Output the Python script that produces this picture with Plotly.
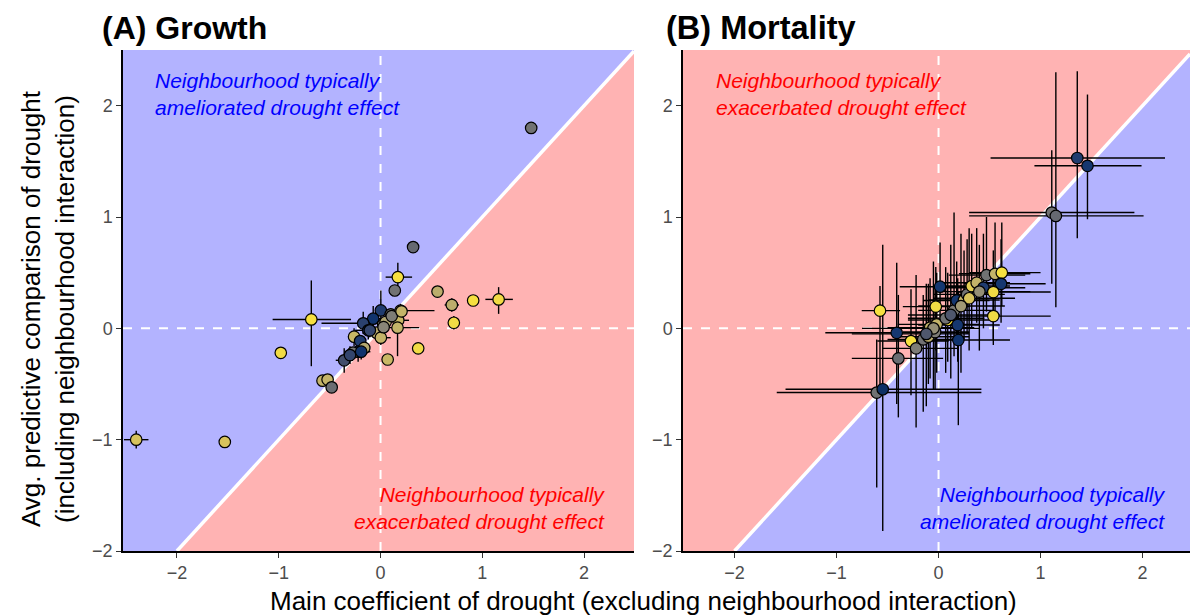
import plotly.graph_objects as go

# ---------------- Panel A: Growth ----------------
a_x = [-2.40, -1.53, -0.98, -0.68, 1.48, 0.32, 0.17, 0.14, 0.56, 0.70, 0.91, 1.16, 0.72, 0.37, 0.07,
       -0.57, -0.52, -0.48, 0.003, 0.10, 0.196, 0.174, 0.167, -0.072, -0.17, 0.026, -0.12, -0.04, 0.003,
       -0.26, -0.20, -0.22, -0.16, -0.27, -0.357, -0.30, 0.05, 0.11, 0.206, -0.105, 0.03, -0.19]
a_y = [-1.00, -1.02, -0.22, 0.08, 1.80, 0.73, 0.46, 0.34, 0.33, 0.21, 0.25, 0.26, 0.05, -0.18, -0.28,
       -0.47, -0.46, -0.53, 0.161, 0.126, 0.159, 0.072, 0.006, 0.087, 0.045, 0.036, -0.018, -0.039, -0.084,
       -0.075, -0.114, -0.21, -0.176, -0.218, -0.287, -0.24, 0.057, 0.11, 0.153, -0.018, 0.01, -0.21]
a_col = [0.85, 0.85, 0.95, 0.97, 0.45, 0.40, 0.97, 0.45, 0.75, 0.75, 0.97, 0.95, 0.95, 0.95, 0.80,
         0.78, 0.78, 0.42, 0.15, 0.45, 0.78, 0.80, 0.78, 0.10, 0.18, 0.50, 0.12, 0.75, 0.78,
         0.80, 0.15, 0.12, 0.72, 0.45, 0.25, 0.20, 0.70, 0.50, 0.78, 0.20, 0.55, 0.10]
a_xlo = [-2.52, -1.53, -0.98, -1.06, 1.48, 0.32, 0.05, 0.14, 0.56, 0.63, 0.86, 1.03, 0.67, 0.33, 0.07,
         -0.62, -0.52, -0.48, -0.05, 0.10, 0.05, 0.10, 0.05, -0.20, -0.58, 0.026, -0.25, -0.04, -0.05,
         -0.32, -0.20, -0.35, -0.16, -0.27, -0.44, -0.36, 0.05, 0.11, 0.206, -0.18, 0.03, -0.25]
a_xhi = [-2.28, -1.53, -0.98, -0.29, 1.48, 0.32, 0.31, 0.14, 0.56, 0.77, 0.96, 1.30, 0.77, 0.42, 0.07,
         -0.52, -0.52, -0.48, 0.12, 0.10, 0.53, 0.28, 0.38, 0.05, 0.05, 0.026, 0.00, -0.04, 0.10,
         -0.20, -0.20, -0.10, -0.16, -0.27, -0.27, -0.24, 0.05, 0.11, 0.206, -0.03, 0.03, -0.12]
a_ylo = [-1.08, -1.02, -0.22, -0.34, 1.80, 0.73, 0.33, 0.34, 0.33, 0.15, 0.21, 0.13, -0.01, -0.23, -0.28,
         -0.50, -0.46, -0.53, 0.05, 0.126, 0.10, 0.00, -0.25, 0.00, -0.05, 0.036, -0.10, -0.039, -0.15,
         -0.16, -0.114, -0.30, -0.176, -0.218, -0.40, -0.32, 0.057, 0.11, 0.153, -0.08, 0.01, -0.28]
a_yhi = [-0.92, -1.02, -0.22, 0.43, 1.80, 0.73, 0.59, 0.34, 0.33, 0.27, 0.29, 0.37, 0.11, -0.13, -0.28,
         -0.44, -0.46, -0.53, 0.34, 0.126, 0.22, 0.14, 0.08, 0.20, 0.15, 0.036, 0.08, -0.039, 0.05,
         0.00, -0.114, -0.12, -0.176, -0.218, -0.18, -0.16, 0.057, 0.11, 0.153, 0.05, 0.01, -0.14]

# ---------------- Panel B: Mortality ----------------
b_x = [1.36, 1.46, 1.11, 1.15, -0.574, -0.41, -0.394, -0.606, -0.547, -0.27, -0.22, -0.15, -0.10, -0.083,
       -0.018, -0.034, 0.015, -0.027, 0.09, 0.152, 0.188, 0.194, 0.178, 0.25, 0.28, 0.325, 0.374, 0.44,
       0.47, 0.554, 0.62, 0.613, 0.537, 0.537, 0.07, -0.05, 0.12, 0.30, 0.40, -0.12, 0.22]
b_y = [1.53, 1.46, 1.04, 1.01, 0.159, -0.04, -0.27, -0.577, -0.547, -0.114, -0.18, -0.10, -0.075, 0.006,
       0.036, -0.033, 0.374, 0.195, 0.075, 0.161, 0.03, -0.105, 0.25, 0.254, 0.305, 0.38, 0.41, 0.365,
       0.478, 0.49, 0.50, 0.40, 0.326, 0.11, 0.09, 0.00, 0.12, 0.27, 0.33, -0.05, 0.20]
b_col = [0.15, 0.12, 0.45, 0.40, 0.97, 0.12, 0.42, 0.45, 0.08, 0.97, 0.50, 0.45, 0.75, 0.78,
         0.78, 0.50, 0.12, 0.95, 1.00, 0.50, 0.12, 0.10, 0.12, 0.78, 0.45, 0.90, 0.78, 0.15,
         0.45, 0.78, 0.97, 0.12, 0.95, 0.95, 0.45, 0.60, 0.30, 0.85, 0.60, 0.30, 0.65]
b_xlo = [0.51, 0.94, 0.30, 0.30, -0.753, -1.11, -0.85, -1.586, -1.50, -0.60, -0.55, -0.50, -0.45, -0.50,
         -0.40, -0.35, -0.38, -0.35, -0.30, -0.20, -0.20, -0.15, -0.15, -0.10, -0.05, 0.00, 0.05, 0.05,
         0.10, 0.20, 0.30, 0.25, 0.20, 0.20, -0.30, -0.75, -0.30, -0.05, 0.00, -0.85, -0.20]
b_xhi = [2.22, 1.99, 1.92, 2.01, -0.377, 0.30, 0.045, 0.42, 0.42, 0.10, 0.20, 0.25, 0.30, 0.35,
         0.40, 0.30, 0.37, 0.30, 0.50, 0.55, 0.60, 0.70, 0.50, 0.60, 0.65, 0.70, 0.70, 0.85,
         0.85, 0.90, 1.00, 1.05, 1.10, 1.10, 0.45, 0.40, 0.60, 0.75, 0.90, 0.30, 0.65]
b_ylo = [0.81, 0.98, 0.40, 0.19, -0.55, -0.68, -0.80, -1.43, -1.82, -0.60, -0.89, -0.75, -0.50, -0.45,
         -0.40, -0.55, 0.10, -0.20, -0.30, -0.25, -0.30, -0.87, -0.10, -0.10, -0.05, 0.00, 0.05, 0.00,
         0.15, 0.10, 0.20, 0.05, -0.10, -0.15, -0.40, -0.55, -0.45, -0.20, -0.20, -0.70, -0.40]
b_yhi = [2.31, 2.10, 1.60, 2.30, 0.38, 0.59, 0.30, -0.10, 0.75, 0.35, 0.48, 0.30, 0.40, 0.45,
         0.50, 0.35, 0.77, 0.55, 0.50, 1.04, 0.45, 0.33, 0.60, 0.70, 0.80, 0.85, 0.90, 0.85,
         1.00, 0.95, 0.95, 0.80, 0.70, 0.50, 0.55, 0.60, 0.75, 0.90, 0.75, 0.40, 0.85]

W, H = 1190, 616
XA = [-2.53, 2.49]
XB = [-2.505, 2.465]
YR = [-2.0, 2.5]
BLUE_BG = "rgb(179,179,255)"
RED_BG = "rgb(255,179,179)"

fig = go.Figure()


def add_panel(x, y, col, xlo, xhi, ylo, yhi, xa, ya):
    ex_p = [h - v for h, v in zip(xhi, x)]
    ex_m = [v - l for l, v in zip(xlo, x)]
    ey_p = [h - v for h, v in zip(yhi, y)]
    ey_m = [v - l for l, v in zip(ylo, y)]
    fig.add_trace(go.Scatter(
        x=x, y=y, mode="markers", xaxis=xa, yaxis=ya, showlegend=False, hoverinfo="skip",
        marker=dict(size=11, opacity=0),
        error_x=dict(type="data", symmetric=False, array=ex_p, arrayminus=ex_m,
                     color="black", thickness=1.4, width=0),
        error_y=dict(type="data", symmetric=False, array=ey_p, arrayminus=ey_m,
                     color="black", thickness=1.4, width=0),
    ))
    fig.add_trace(go.Scatter(
        x=x, y=y, mode="markers", xaxis=xa, yaxis=ya, showlegend=False,
        marker=dict(size=11.5, color=col, colorscale="Cividis", cmin=0, cmax=1,
                    line=dict(color="black", width=1.2)),
    ))


add_panel(a_x, a_y, a_col, a_xlo, a_xhi, a_ylo, a_yhi, "x", "y")
add_panel(b_x, b_y, b_col, b_xlo, b_xhi, b_ylo, b_yhi, "x2", "y2")

shapes = []


def panel_shapes(xr, xref, yref, above_col, below_col):
    x0, x1 = xr
    y0, y1 = YR
    shapes.append(dict(type="path", xref=xref, yref=yref, layer="below", line=dict(width=0),
                       fillcolor=above_col,
                       path=f"M {x0},{y0} L {y0},{y0} L {x1},{x1} L {x1},{y1} L {x0},{y1} Z"))
    shapes.append(dict(type="path", xref=xref, yref=yref, layer="below", line=dict(width=0),
                       fillcolor=below_col,
                       path=f"M {y0},{y0} L {x1},{y0} L {x1},{x1} Z"))
    shapes.append(dict(type="line", xref=xref, yref=yref, layer="below",
                       x0=y0, y0=y0, x1=x1, y1=x1, line=dict(color="white", width=3.5)))
    shapes.append(dict(type="line", xref=xref, yref=yref, layer="below",
                       x0=0, y0=y0, x1=0, y1=y1, line=dict(color="white", width=2, dash="dash")))
    shapes.append(dict(type="line", xref=xref, yref=yref, layer="below",
                       x0=x0, y0=0, x1=x1, y1=0, line=dict(color="white", width=2, dash="dash")))


panel_shapes(XA, "x", "y", BLUE_BG, RED_BG)
panel_shapes(XB, "x2", "y2", RED_BG, BLUE_BG)

ydom = [(H - 551) / H, (H - 50) / H]
axis_common = dict(showgrid=False, zeroline=False, showline=True, linecolor="black", linewidth=1.5,
                   ticks="outside", ticklen=5, tickwidth=1.2, tickcolor="#333333", automargin=False,
                   tickfont=dict(family="Liberation Sans, Arial", size=18, color="#4D4D4D"),
                   tickvals=[-2, -1, 0, 1, 2], fixedrange=True)

fig.update_layout(
    template="none",
    width=W, height=H, autosize=False, margin=dict(l=0, r=0, t=0, b=0, pad=0, autoexpand=False),
    paper_bgcolor="white", plot_bgcolor="white",
    xaxis=dict(domain=[123 / W, 634 / W], range=XA, anchor="y", **axis_common),
    yaxis=dict(domain=ydom, range=YR, anchor="x", **axis_common),
    xaxis2=dict(domain=[683 / W, 1.0], range=XB, anchor="y2", **axis_common),
    yaxis2=dict(domain=ydom, range=YR, anchor="x2", **axis_common),
    shapes=shapes,
    font=dict(family="Liberation Sans, Arial"),
)

ann = []


def px_ann(text, x, y, xanchor="left", size=21, color="black", align="left", angle=0, bold=False, italic=False):
    t = text
    if bold:
        t = f"<b>{t}</b>"
    if italic:
        t = f"<i>{t}</i>"
    ann.append(dict(text=t, x=x / W, y=1 - y / H, xref="paper", yref="paper", showarrow=False,
                    xanchor=xanchor, yanchor="middle", align=align, textangle=angle,
                    font=dict(family="Liberation Sans, Arial", size=size, color=color)))


px_ann("(A) Growth", 100, 28, size=32, bold=True)
px_ann("(B) Mortality", 664, 28, size=32.5, bold=True)
px_ann("Neighbourhood typically<br>ameliorated drought effect", 153, 94, color="#0000FF", italic=True)
px_ann("Neighbourhood typically<br>exacerbated drought effect", 607, 508, xanchor="right", align="right",
       color="#FF0000", italic=True)
px_ann("Neighbourhood typically<br>exacerbated drought effect", 714, 94, color="#FF0000", italic=True)
px_ann("Neighbourhood typically<br>ameliorated drought effect", 1167, 508, xanchor="right", align="right",
       color="#0000FF", italic=True)
px_ann("Main coefficient of drought (excluding neighbourhood interaction)", 643, 601, xanchor="center",
       size=26, align="center")
ann.append(dict(text="Avg. predictive comparison of drought<br>(including neighbourhood interaction)",
                x=48 / W, y=1 - 309 / H, xref="paper", yref="paper", showarrow=False,
                xanchor="center", yanchor="middle", align="center", textangle=-90,
                font=dict(family="Liberation Sans, Arial", size=26, color="black")))
fig.update_layout(annotations=ann)

fig.write_html("out.html", config={"responsive": False})
